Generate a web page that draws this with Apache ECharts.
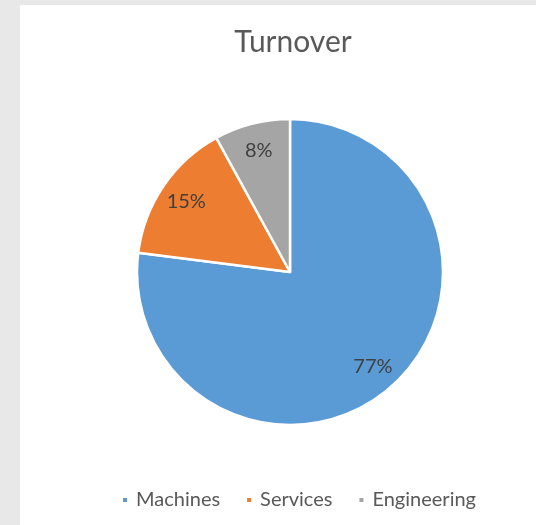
<!DOCTYPE html>
<html>
<head>
<meta charset="utf-8">
<script src="https://cdn.jsdelivr.net/npm/echarts@6/dist/echarts.min.js"></script>
<style>
html,body{margin:0;padding:0;background:#e8e8e8;width:536px;height:525px;overflow:hidden;}
#chart{position:absolute;left:20px;top:5px;width:516px;height:520px;background:#ffffff;}
</style>
</head>
<body>
<div id="chart"></div>
<script>
const categories = ['Machines', 'Services', 'Engineering'];
const values = [77, 15, 8];
const colors = ['#5B9BD5', '#ED7D31', '#A5A5A5'];
const titleText = 'Turnover';

const chart = echarts.init(document.getElementById('chart'), null, {renderer: 'canvas'});
const data = categories.map((c, i) => ({name: c, value: values[i], itemStyle: {color: colors[i]}}));
const labelData = categories.map((c, i) => ({name: c, value: values[i]}));
const center = [270, 267];
const R = 153;
chart.setOption({
  animation: false,
  title: {
    text: titleText, left: 268, textAlign: 'center', top: 17,
    textStyle: {fontFamily: 'Lato', fontSize: 30, fontWeight: 'normal', color: '#595959'}
  },
  legend: {
    data: categories, bottom: 10, left: 96,
    icon: 'rect', itemWidth: 6, itemHeight: 6, itemGap: 25,
    textStyle: {fontFamily: 'Lato', fontSize: 20, color: '#595959', padding: [0, 0, 0, 3]}
  },
  series: [{
    type: 'pie', center: center, radius: R, startAngle: 90, clockwise: true,
    data: data,
    itemStyle: {borderColor: '#ffffff', borderWidth: 2.5},
    label: {show: false}, labelLine: {show: false},
    emphasis: {disabled: true}
  }, {
    type: 'pie', center: center, radius: [R * 0.6, R], startAngle: 90, clockwise: true,
    data: labelData, silent: true,
    itemStyle: {color: 'rgba(0,0,0,0)', borderWidth: 0},
    label: {show: true, position: 'inside', formatter: '{c}%', fontFamily: 'Lato', fontSize: 20, color: '#404040'},
    labelLine: {show: false},
    emphasis: {disabled: true}
  }]
});
</script>
</body>
</html>
